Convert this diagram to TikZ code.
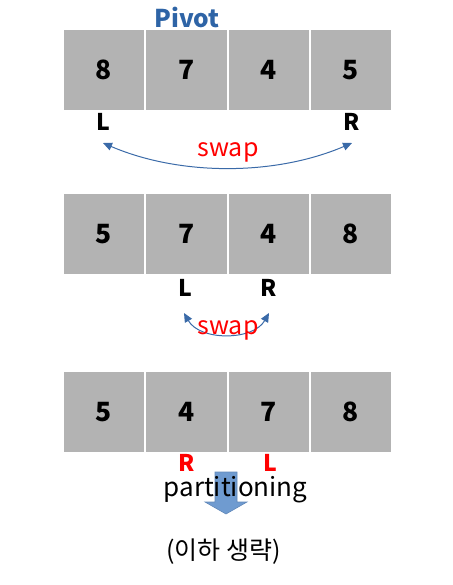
\documentclass[tikz,border=0pt]{standalone}
\usepackage{fontspec}
\setmainfont{Noto Sans CJK KR}
\usepackage{tikz}
\usetikzlibrary{arrows.meta}
\definecolor{cellgray}{HTML}{B3B3B3}
\definecolor{pivotblue}{HTML}{2E64A6}
\definecolor{arcblue}{HTML}{3A6AA8}
\definecolor{fatblue}{HTML}{6F9BD0}

\begin{document}
\begin{tikzpicture}[x=1pt,y=-1pt]
\tikzset{cell/.style={rectangle,fill=cellgray,draw=white,line width=1.2pt,minimum width=82pt,minimum height=81pt,inner sep=0pt,font=\fontsize{26.5}{30}\selectfont\bfseries},
ptr/.style={font=\fontsize{23}{26}\selectfont\bfseries,inner sep=0pt},
swaptxt/.style={text=red,font=\fontsize{25}{28}\selectfont,inner sep=0pt},
arc/.style={arcblue,line width=1pt,{Triangle[length=9pt,width=8pt]}-{Triangle[length=9pt,width=8pt]}}}
\useasboundingbox (0,0) rectangle (452,585);

% first pass
\node[text=pivotblue,font=\fontsize{24.5}{28}\selectfont\bfseries,inner sep=0pt] (pivot) at (187,17) {Pivot};
\node[cell] (a1) at (104,70) {8};
\node[cell] (a2) at (186.5,70) {7};
\node[cell] (a3) at (269,70) {4};
\node[cell] (a4) at (351,70) {5};
\node[ptr] (L1) at (103,122) {L};
\node[ptr] (R1) at (352,122) {R};
\coordinate (l1) at (103,143);
\coordinate (r1) at (352,143);
\draw[arc] (l1) .. controls (180,176) and (275,176) .. (r1);
\node[swaptxt] (s1) at (228,152) {swap};

% second pass
\node[cell] (b1) at (104,234) {5};
\node[cell] (b2) at (186.5,234) {7};
\node[cell] (b3) at (269,234) {4};
\node[cell] (b4) at (351,234) {8};
\node[ptr] (L2) at (185,288) {L};
\node[ptr] (R2) at (269,288) {R};
\coordinate (l2) at (184,313);
\coordinate (r2) at (269,313);
\draw[arc] (l2) .. controls (200,341) and (253,341) .. (r2);
\node[swaptxt] (s2) at (228,330) {swap};

% third pass
\node[cell] (c1) at (104,412) {5};
\node[cell] (c2) at (186.5,412) {4};
\node[cell] (c3) at (269,412) {7};
\node[cell] (c4) at (351,412) {8};
\node[ptr,text=red] (R3) at (187,463) {R};
\node[ptr,text=red] (L3) at (270,463) {L};
\filldraw[fill=fatblue,draw=arcblue!80,line width=0.6pt] (215,472) -- (237,472) -- (237,502) -- (247,502) -- (226,514) -- (205,502) -- (215,502) -- cycle;
\node[font=\fontsize{26}{30}\selectfont,inner sep=0pt] (part) at (235.5,490) {partitioning};
\node[font=\fontsize{25}{30}\selectfont,inner sep=0pt] (rest) at (223.5,552) {(이하 생략)};
\end{tikzpicture}
\end{document}
